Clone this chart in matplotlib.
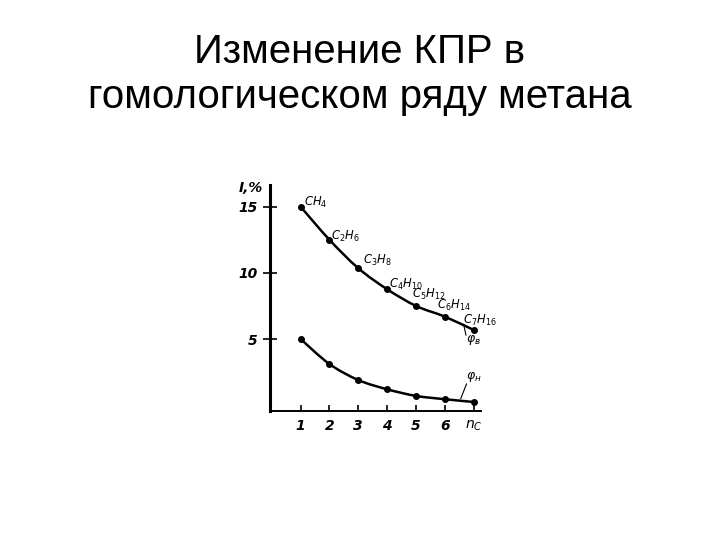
import matplotlib
matplotlib.use("Agg")
import matplotlib.pyplot as plt
from matplotlib.path import Path
from matplotlib.patches import PathPatch

title = "Изменение КПР в\nгомологическом ряду метана"
n_carbon = [1, 2, 3, 4, 5, 6, 7]
upper_limit = [15.0, 12.5, 10.35, 8.76, 7.5, 6.69, 5.68]
lower_limit = [5.0, 3.11, 1.9, 1.2, 0.7, 0.45, 0.24]
formulas = [r"$CH_4$", r"$C_2H_6$", r"$C_3H_8$", r"$C_4H_{10}$",
            r"$C_5H_{12}$", r"$C_6H_{14}$", r"$C_7H_{16}$"]
x_ticks = [1, 2, 3, 4, 5, 6, 7]
x_ticklabels = ["1", "2", "3", "4", "5", "6", r"$n_C$"]
y_ticks = [5, 10, 15]
y_ticklabels = ["5", "10", "15"]

fig = plt.figure(figsize=(7.2, 5.4), dpi=100)
fig.text(0.5, 0.862, title, ha="center", va="center", fontsize=29,
         family="Liberation Sans", linespacing=1.25)

ax = fig.add_axes([0.375, 0.2394, 0.293, 0.418])
ax.set_xlim(-0.06, 7.25)
ax.set_ylim(-0.42, 16.64)
for s in ["top", "right"]:
    ax.spines[s].set_visible(False)
ax.spines["left"].set_linewidth(2.2)
ax.spines["bottom"].set_linewidth(1.4)


def smooth(ax, xs, ys):
    pts = list(zip(xs, ys))
    verts = [pts[0]]
    codes = [Path.MOVETO]
    for i in range(len(pts) - 1):
        p0 = pts[i - 1] if i > 0 else pts[i]
        p1 = pts[i]
        p2 = pts[i + 1]
        p3 = pts[i + 2] if i + 2 < len(pts) else pts[i + 1]
        c1 = (p1[0] + (p2[0] - p0[0]) / 6, p1[1] + (p2[1] - p0[1]) / 6)
        c2 = (p2[0] - (p3[0] - p1[0]) / 6, p2[1] - (p3[1] - p1[1]) / 6)
        verts += [c1, c2, p2]
        codes += [Path.CURVE4] * 3
    ax.add_patch(PathPatch(Path(verts, codes), fill=False, lw=1.8,
                           edgecolor="black"))


smooth(ax, n_carbon, upper_limit)
smooth(ax, n_carbon, lower_limit)
ax.plot(n_carbon, upper_limit, "o", color="black", ms=4)
ax.plot(n_carbon, lower_limit, "o", color="black", ms=4)

# offsets in pixels (left edge / vertical centre of label relative to point)
offsets = [(3, 4), (2, 3), (5, 8), (2, 5), (-4, 11), (-8, 11), (-11, 10)]
for x, y, f, off in zip(n_carbon, upper_limit, formulas, offsets):
    ax.annotate(f, (x, y), xytext=off, textcoords="offset pixels",
                fontsize=8.3, ha="left", va="center")

# curve labels with leader lines
ax.plot([6.73, 6.65], [5.3, 6.1], color="black", lw=0.8)
ax.text(6.73, 4.9, r"$\varphi_в$", fontsize=9, ha="left", va="center")
ax.plot([6.75, 6.55], [1.6, 0.5], color="black", lw=0.8)
ax.text(6.73, 2.1, r"$\varphi_н$", fontsize=9, ha="left", va="center")

ax.set_xticks(x_ticks)
ax.set_xticklabels(x_ticklabels, fontsize=10, fontstyle="italic",
                   fontweight="bold")
ax.set_yticks(y_ticks)
ax.set_yticklabels(y_ticklabels, fontsize=10, fontstyle="italic",
                   fontweight="bold")
ax.tick_params(axis="x", direction="in", length=4, width=1.2, pad=6)
ax.tick_params(axis="y", direction="inout", length=10, width=1.2, pad=4)
ax.text(-0.3, 16.4, "I,%", fontsize=10, fontstyle="italic",
        fontweight="bold", ha="right", va="center")

fig.savefig("out.png", dpi=100)
